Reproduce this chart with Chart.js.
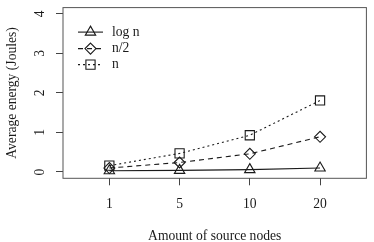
<!DOCTYPE html>
<html>
<head>
<meta charset="utf-8">
<script src="https://cdn.jsdelivr.net/npm/chart.js@4/dist/chart.umd.min.js"></script>
<style>
  body { margin: 0; background: #fff; }
  canvas { display: block; }
</style>
</head>
<body>
<canvas id="myChart" width="374" height="242"></canvas>
<script>
// data
const xLabels = ["1", "5", "10", "20"];
const seriesNames = ["log n", "n/2", "n"];
const logN = [0.03, 0.04, 0.06, 0.10];
const halfN = [0.10, 0.24, 0.46, 0.89];
const fullN = [0.16, 0.47, 0.93, 1.81];
const yTicks = [0, 1, 2, 3, 4];

const FONT = "'Liberation Serif', 'DejaVu Serif', serif";
const FSIZE = 13.6;
const INK = "#1a1a1a";

function toPoints(arr) {
  return arr.map(function (v, i) { return { x: i + 1, y: v }; });
}

// same geometry as chart.js drawPoint, used for the legend keys
function drawMark(ctx, style, x, y, r) {
  ctx.beginPath();
  if (style === 'triangle') {
    let a = 0;
    ctx.moveTo(x + Math.sin(a) * r, y - Math.cos(a) * r);
    a += 2 * Math.PI / 3;
    ctx.lineTo(x + Math.sin(a) * r, y - Math.cos(a) * r);
    a += 2 * Math.PI / 3;
    ctx.lineTo(x + Math.sin(a) * r, y - Math.cos(a) * r);
    ctx.closePath();
  } else if (style === 'rectRot') {
    ctx.moveTo(x, y - r);
    ctx.lineTo(x + r, y);
    ctx.lineTo(x, y + r);
    ctx.lineTo(x - r, y);
    ctx.closePath();
  } else {
    let s = r * Math.SQRT1_2;
    ctx.rect(x - s, y - s, 2 * s, 2 * s);
  }
  ctx.stroke();
}

const boxPlugin = {
  id: 'boxPlugin',
  afterDraw: function (chart) {
    const ctx = chart.ctx;
    const a = chart.chartArea;
    ctx.save();
    ctx.strokeStyle = "#555";
    ctx.lineWidth = 1;
    ctx.strokeRect(a.left, a.top, a.right - a.left, a.bottom - a.top);

    // y tick labels, rotated like R does
    const ys = chart.scales.y;
    ctx.fillStyle = INK;
    ctx.font = FSIZE + "px " + FONT;
    ctx.textAlign = 'center';
    ctx.textBaseline = 'middle';
    yTicks.forEach(function (t) {
      ctx.save();
      ctx.translate(40, ys.getPixelForValue(t));
      ctx.rotate(-Math.PI / 2);
      ctx.fillText(String(t), 0, 0);
      ctx.restore();
    });

    // legend: line + marker + name
    const rows = [24.5, 41, 57];
    chart.data.datasets.forEach(function (ds, i) {
      const y = a.top + rows[i];
      ctx.strokeStyle = ds.borderColor;
      ctx.lineWidth = ds.borderWidth;
      ctx.setLineDash(ds.borderDash || []);
      ctx.beginPath();
      ctx.moveTo(a.left + 15, y);
      ctx.lineTo(a.left + 40, y);
      ctx.stroke();
      ctx.setLineDash([]);
      drawMark(ctx, ds.pointStyle, a.left + 27.5, y, ds.pointRadius);
      ctx.textAlign = 'left';
      ctx.fillText(ds.label, a.left + 49, y);
    });
    ctx.restore();
  }
};

let ctx = document.getElementById("myChart");
let myChart = new Chart(ctx, {
  type: 'line',
  data: {
    datasets: [{
      label: seriesNames[0],
      data: toPoints(logN),
      borderColor: INK,
      borderWidth: 1.1,
      pointStyle: 'triangle',
      pointRadius: 6,
      pointBorderColor: INK,
      pointBackgroundColor: 'rgba(0,0,0,0)',
      pointBorderWidth: 1.1
    }, {
      label: seriesNames[1],
      data: toPoints(halfN),
      borderColor: INK,
      borderWidth: 1.1,
      borderDash: [5, 4],
      pointStyle: 'rectRot',
      pointRadius: 5.5,
      pointBorderColor: INK,
      pointBackgroundColor: 'rgba(0,0,0,0)',
      pointBorderWidth: 1.1
    }, {
      label: seriesNames[2],
      data: toPoints(fullN),
      borderColor: INK,
      borderWidth: 1.1,
      borderDash: [2, 3],
      pointStyle: 'rect',
      pointRadius: 6.5,
      pointBorderColor: INK,
      pointBackgroundColor: 'rgba(0,0,0,0)',
      pointBorderWidth: 1.1
    }]
  },
  options: {
    responsive: false,
    animation: false,
    layout: { padding: { top: 1, right: 4, left: 0, bottom: 0 } },
    plugins: {
      legend: { display: false },
      tooltip: { enabled: false }
    },
    scales: {
      x: {
        type: 'linear',
        min: 0.34,
        max: 4.66,
        afterBuildTicks: function (scale) {
          scale.ticks = xLabels.map(function (l, i) { return { value: i + 1 }; });
        },
        afterFit: function (scale) { scale.height = 63.7; },
        ticks: {
          color: INK,
          padding: 10.5,
          maxRotation: 0,
          font: { family: FONT, size: FSIZE },
          callback: function (v) { return xLabels[v - 1]; }
        },
        grid: { drawOnChartArea: false, tickLength: 7, color: "#444" },
        border: { display: false },
        title: {
          display: true,
          text: "Amount of source nodes",
          color: INK,
          font: { family: FONT, size: FSIZE },
          padding: { top: 0, bottom: -3 }
        }
      },
      y: {
        min: -0.16,
        max: 4.16,
        afterBuildTicks: function (scale) {
          scale.ticks = yTicks.map(function (t) { return { value: t }; });
        },
        afterFit: function (scale) { scale.width = 63; },
        ticks: { display: false },
        grid: { drawOnChartArea: false, tickLength: 7, color: "#444" },
        border: { display: false },
        title: {
          display: true,
          text: "Average energy (Joules)",
          color: INK,
          font: { family: FONT, size: FSIZE },
          padding: { top: 4, bottom: 0 }
        }
      }
    }
  },
  plugins: [boxPlugin]
});
</script>
</body>
</html>
